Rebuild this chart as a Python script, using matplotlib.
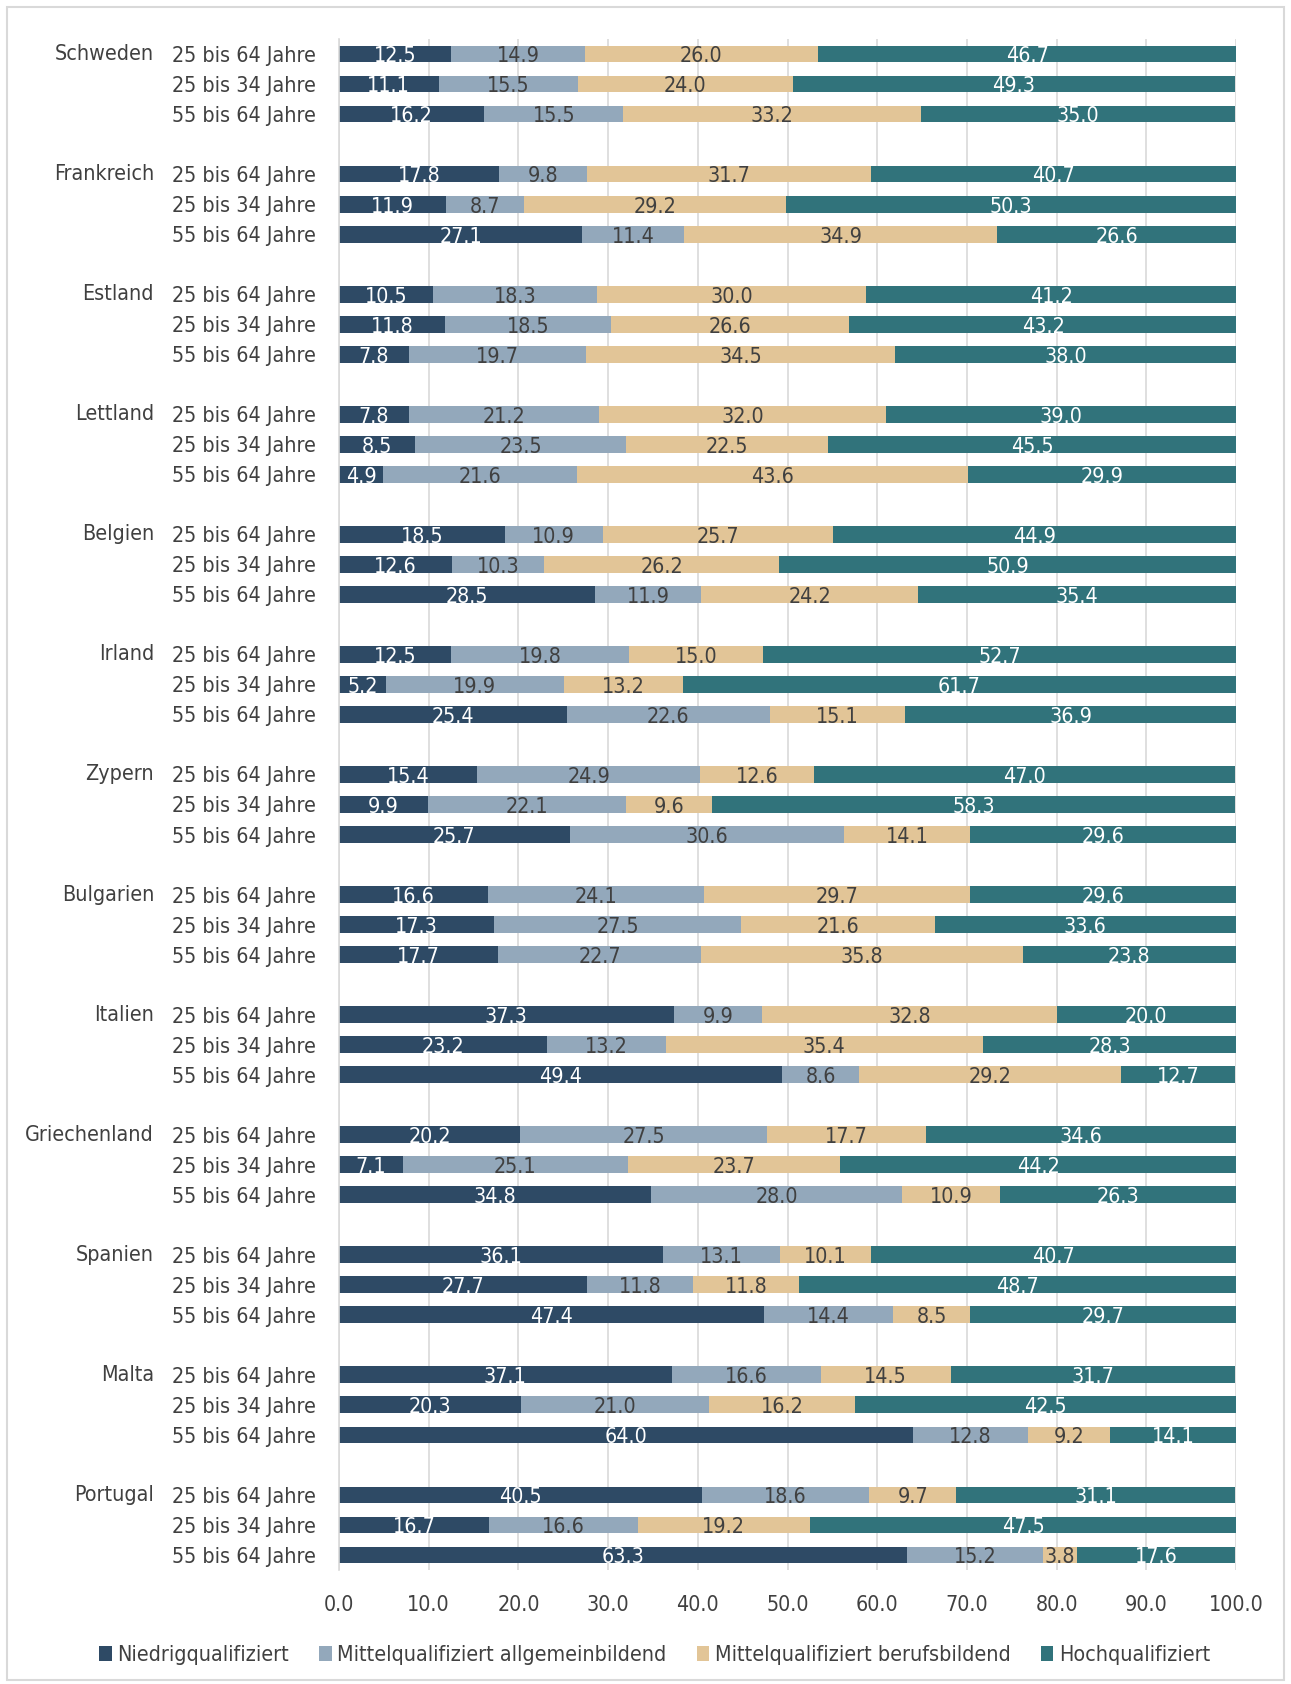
import matplotlib

matplotlib.use("Agg")
import matplotlib.pyplot as plt
import matplotlib.transforms as mtransforms
from matplotlib import font_manager
from matplotlib.patches import Patch, Rectangle

# data (percent shares)
countries = ["Schweden", "Frankreich", "Estland", "Lettland", "Belgien", "Irland",
             "Zypern", "Bulgarien", "Italien", "Griechenland", "Spanien", "Malta",
             "Portugal"]
age_groups = ["25 bis 64 Jahre", "25 bis 34 Jahre", "55 bis 64 Jahre"]
series_names = ["Niedrigqualifiziert", "Mittelqualifiziert allgemeinbildend",
                "Mittelqualifiziert berufsbildend", "Hochqualifiziert"]

niedrig = [12.5, 11.1, 16.2, 17.8, 11.9, 27.1, 10.5, 11.8, 7.8, 7.8, 8.5, 4.9,
           18.5, 12.6, 28.5, 12.5, 5.2, 25.4, 15.4, 9.9, 25.7, 16.6, 17.3, 17.7,
           37.3, 23.2, 49.4, 20.2, 7.1, 34.8, 36.1, 27.7, 47.4, 37.1, 20.3, 64.0,
           40.5, 16.7, 63.3]
mittel_allg = [14.9, 15.5, 15.5, 9.8, 8.7, 11.4, 18.3, 18.5, 19.7, 21.2, 23.5, 21.6,
               10.9, 10.3, 11.9, 19.8, 19.9, 22.6, 24.9, 22.1, 30.6, 24.1, 27.5, 22.7,
               9.9, 13.2, 8.6, 27.5, 25.1, 28.0, 13.1, 11.8, 14.4, 16.6, 21.0, 12.8,
               18.6, 16.6, 15.2]
mittel_beruf = [26.0, 24.0, 33.2, 31.7, 29.2, 34.9, 30.0, 26.6, 34.5, 32.0, 22.5, 43.6,
                25.7, 26.2, 24.2, 15.0, 13.2, 15.1, 12.6, 9.6, 14.1, 29.7, 21.6, 35.8,
                32.8, 35.4, 29.2, 17.7, 23.7, 10.9, 10.1, 11.8, 8.5, 14.5, 16.2, 9.2,
                9.7, 19.2, 3.8]
hoch = [46.7, 49.3, 35.0, 40.7, 50.3, 26.6, 41.2, 43.2, 38.0, 39.0, 45.5, 29.9,
        44.9, 50.9, 35.4, 52.7, 61.7, 36.9, 47.0, 58.3, 29.6, 29.6, 33.6, 23.8,
        20.0, 28.3, 12.7, 34.6, 44.2, 26.3, 40.7, 48.7, 29.7, 31.7, 42.5, 14.1,
        31.1, 47.5, 17.6]
x_ticks = [0, 10, 20, 30, 40, 50, 60, 70, 80, 90, 100]

colors = ["#2E4A65", "#93A8BB", "#E2C597", "#31737B"]
text_colors = ["white", "#404040", "#404040", "white"]
grey = "#404040"


def pick_font():
    """Prefer a narrow sans (the original is Calibri); fall back to DejaVu Sans."""
    narrow = []
    for f in font_manager.fontManager.ttflist:
        if f.style != "normal" or f.weight not in (400, "normal", "regular"):
            continue
        st = str(f.stretch).lower()
        if "narrow" in f.name.lower() or "condensed" in f.name.lower() \
                or st in ("condensed", "semi-condensed", "semicondensed"):
            if "mono" in f.name.lower() or "serif" in f.name.lower():
                continue
            narrow.append(f)
    if narrow:
        narrow.sort(key=lambda f: ("dejavu" not in f.name.lower(), f.name))
        return font_manager.FontProperties(fname=narrow[0].fname)
    return font_manager.FontProperties(family="DejaVu Sans")


# one slot per bar, one empty slot between countries
ypos = []
for ci in range(len(countries)):
    for ai in range(len(age_groups)):
        ypos.append(ci * 4 + ai)
ylabels = age_groups * len(countries)

fig = plt.figure(figsize=(12.91, 16.84), dpi=100)

# size the font so an age label is as wide as in the reference (~144 px)
prop = pick_font()
renderer = fig.canvas.get_renderer()
prop.set_size(18)
w, _, _ = renderer.get_text_width_height_descent("25 bis 64 Jahre", prop, ismath=False)
fs = min(18 * 144 / w, 18.5)
prop.set_size(fs)

ax = fig.add_axes([339 / 1291, 1 - 1570 / 1684, (1236 - 339) / 1291, 1531 / 1684])

series = [niedrig, mittel_allg, mittel_beruf, hoch]
left = [0.0] * len(ypos)
for vals, col, tcol, name in zip(series, colors, text_colors, series_names):
    ax.barh(ypos, vals, left=left, height=0.56, color=col, edgecolor="none",
            label=name)
    for y, l, v in zip(ypos, left, vals):
        ax.text(l + v / 2, y + 0.08, f"{v:.1f}", ha="center", va="center",
                color=tcol, fontproperties=prop)
    left = [l + v for l, v in zip(left, vals)]

ax.set_xlim(0, 100)
ax.set_ylim(max(ypos) + 0.5, -0.5)
ax.set_xticks(x_ticks)
ax.set_xticklabels([f"{t:.1f}" for t in x_ticks], fontproperties=prop, color=grey)
ax.set_yticks(ypos)
ax.set_yticklabels(ylabels, fontproperties=prop, color=grey)
ax.tick_params(axis="x", length=0, pad=18)
ax.tick_params(axis="y", length=0, pad=17)
ax.grid(axis="x", color="#D9D9D9", lw=1.2)
ax.set_axisbelow(True)
for side in ["top", "right", "bottom"]:
    ax.spines[side].set_visible(False)
ax.spines["left"].set_color("#D9D9D9")
ax.spines["left"].set_linewidth(1.2)

# country names left of the age labels
trans = mtransforms.blended_transform_factory(fig.transFigure, ax.transData)
for ci, c in enumerate(countries):
    ax.text(154 / 1291, ci * 4, c, transform=trans, ha="right", va="center",
            fontproperties=prop, color=grey)

handles = [Patch(facecolor=c, edgecolor="none") for c in colors]
fig.legend(handles, series_names, loc="center",
           bbox_to_anchor=(0.507, 1 - 1655 / 1684), ncol=4, frameon=False,
           prop=prop, labelcolor=grey, handlelength=0.6, handleheight=0.7,
           handletextpad=0.25, columnspacing=1.4)

fig.add_artist(Rectangle((7 / 1291, 1 - 1680 / 1684), 1277 / 1291, 1673 / 1684,
                         transform=fig.transFigure, fill=False,
                         edgecolor="#D9D9D9", lw=1.5))

fig.savefig("out.png", dpi=100)
